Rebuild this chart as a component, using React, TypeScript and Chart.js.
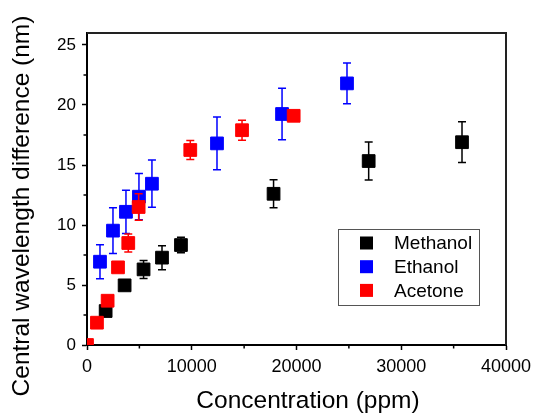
import { useEffect, useRef } from 'react';
import { Chart, registerables } from 'chart.js';

Chart.register(...registerables);

const seriesNames = ['Methanol', 'Ethanol', 'Acetone'];
const seriesColors = ['#000000', '#0000ff', '#ff0000'];

const xMethanol = [1780, 3590, 5400, 7160, 8970, 17810, 26890, 35800];
const yMethanol = [2.83, 4.97, 6.3, 7.28, 8.33, 12.6, 15.33, 16.9];
const eMethanol = [0.2, 0.3, 0.75, 1.0, 0.65, 1.17, 1.58, 1.7];

const xEthanol = [1240, 2480, 3720, 4960, 6200, 12410, 18620, 24820];
const yEthanol = [6.94, 9.53, 11.1, 12.36, 13.44, 16.8, 19.25, 21.8];
const eEthanol = [1.42, 1.9, 1.8, 1.93, 1.97, 2.2, 2.15, 1.7];

const xAcetone = [0, 950, 1970, 2960, 3940, 4930, 9860, 14800, 19730];
const yAcetone = [0, 1.86, 3.69, 6.47, 8.5, 11.5, 16.25, 17.9, 19.1];
const eAcetone = [0, 0.15, 0.15, 0.15, 0.75, 1.1, 0.8, 0.83, 0.2];

const xTickLabels = [0, 10000, 20000, 30000, 40000];
const yTickLabels = [0, 5, 10, 15, 20, 25];

const xTitle = 'Concentration (ppm)';
const yTitle = 'Central wavelength difference (nm)';

const FONT = "'Liberation Sans', Arial, sans-serif";

const toPoints = (xs: number[], ys: number[]) => xs.map((x, i) => ({ x, y: ys[i] }));

const errorBarPlugin = {
  id: 'errorBars',
  beforeDatasetDraw(chart: any, args: any) {
    const ds = chart.data.datasets[args.index];
    const errs: number[] = ds.errors || [];
    const xs = chart.scales.x;
    const ys = chart.scales.y;
    const ctx = chart.ctx;
    ctx.save();
    ctx.strokeStyle = ds.borderColor;
    ctx.lineWidth = 1.5;
    ds.data.forEach((p: any, i: number) => {
      const e = errs[i];
      if (!e) return;
      const px = xs.getPixelForValue(p.x);
      const yt = ys.getPixelForValue(p.y + e);
      const yb = ys.getPixelForValue(p.y - e);
      ctx.beginPath();
      ctx.moveTo(px, yt);
      ctx.lineTo(px, yb);
      ctx.moveTo(px - 4, yt);
      ctx.lineTo(px + 4, yt);
      ctx.moveTo(px - 4, yb);
      ctx.lineTo(px + 4, yb);
      ctx.stroke();
    });
    ctx.restore();
  },
};

const framePlugin = {
  id: 'frame',
  afterDraw(chart: any) {
    const { ctx, chartArea } = chart;
    ctx.save();
    ctx.strokeStyle = '#222222';
    ctx.lineWidth = 2;
    ctx.beginPath();
    ctx.moveTo(chartArea.left, chartArea.top);
    ctx.lineTo(chartArea.right, chartArea.top);
    ctx.lineTo(chartArea.right, chartArea.bottom);
    ctx.stroke();
    // minor ticks
    ctx.strokeStyle = '#000000';
    ctx.lineWidth = 1.5;
    const xs = chart.scales.x;
    const ys = chart.scales.y;
    ctx.beginPath();
    xs.ticks.forEach((t: any) => {
      if (xTickLabels.includes(t.value)) return;
      const px = xs.getPixelForValue(t.value);
      ctx.moveTo(px, chartArea.bottom);
      ctx.lineTo(px, chartArea.bottom + 3.5);
    });
    ys.ticks.forEach((t: any) => {
      if (yTickLabels.includes(t.value)) return;
      const py = ys.getPixelForValue(t.value);
      ctx.moveTo(chartArea.left, py);
      ctx.lineTo(chartArea.left - 3.5, py);
    });
    ctx.stroke();
    ctx.restore();
  },
};

const titlePlugin = {
  id: 'axisTitles',
  afterDraw(chart: any) {
    const { ctx, chartArea } = chart;
    ctx.save();
    ctx.fillStyle = '#000000';
    ctx.font = `24.5px ${FONT}`;
    ctx.textAlign = 'center';
    ctx.textBaseline = 'alphabetic';
    ctx.fillText(xTitle, chartArea.left + 221, chartArea.bottom + 63);
    ctx.translate(28.5, chartArea.top + 173);
    ctx.rotate(-Math.PI / 2);
    ctx.fillText(yTitle, 0, 0);
    ctx.restore();
  },
};

const legendPlugin = {
  id: 'boxLegend',
  afterDraw(chart: any) {
    const { ctx, chartArea } = chart;
    const left = chartArea.left + 251;
    const top = chartArea.top + 196;
    const w = 141;
    const h = 76;
    ctx.save();
    ctx.strokeStyle = '#555555';
    ctx.lineWidth = 1;
    ctx.strokeRect(left + 0.5, top + 0.5, w, h);
    ctx.font = `19px ${FONT}`;
    ctx.textBaseline = 'middle';
    ctx.textAlign = 'left';
    chart.data.datasets.forEach((ds: any, i: number) => {
      const cy = top + 14 + i * 23.7;
      ctx.fillStyle = ds.backgroundColor;
      ctx.fillRect(left + 22, cy - 6.5, 13, 13);
      ctx.fillStyle = '#000000';
      ctx.fillText(ds.label, left + 56, cy + 1);
    });
    ctx.restore();
  },
};

export default function App() {
  const ref = useRef<HTMLCanvasElement | null>(null);

  useEffect(() => {
    document.body.style.margin = '0';
    const canvas = ref.current;
    if (!canvas) return;
    const xsAll = [xMethanol, xEthanol, xAcetone];
    const ysAll = [yMethanol, yEthanol, yAcetone];
    const esAll = [eMethanol, eEthanol, eAcetone];
    const chart = new Chart(canvas, {
      type: 'scatter',
      data: {
        datasets: seriesNames.map((name, i) => ({
          label: name,
          data: toPoints(xsAll[i], ysAll[i]),
          errors: esAll[i],
          backgroundColor: seriesColors[i],
          borderColor: seriesColors[i],
          pointStyle: 'rect',
          pointRadius: 9,
          pointHoverRadius: 9,
          borderWidth: 1,
          order: 3 - i,
          clip: 0,
        })) as any,
      },
      options: {
        animation: false,
        responsive: false,
        events: [],
        layout: { padding: { left: 0, top: 33, right: 28, bottom: 0 } },
        plugins: {
          legend: { display: false },
          tooltip: { enabled: false },
        },
        scales: {
          x: {
            type: 'linear',
            min: 0,
            max: 40000,
            afterFit: (s: any) => {
              s.height = 69;
              s.paddingLeft = 0;
              s.paddingRight = 0;
            },
            ticks: {
              stepSize: 5000,
              includeBounds: false,
              autoSkip: false,
              maxRotation: 0,
              color: '#000000',
              padding: 6,
              font: { family: FONT, size: 18 },
              callback: (v: any) => (xTickLabels.includes(Number(v)) ? String(v) : ''),
            },
            grid: {
              drawOnChartArea: false,
              drawTicks: true,
              tickLength: 5,
              tickColor: (c: any) =>
                c.tick && xTickLabels.includes(c.tick.value) ? '#000000' : 'rgba(0,0,0,0)',
              tickWidth: 1.5,
            },
            border: { color: '#000000', width: 2 },
            title: { display: false },
          },
          y: {
            type: 'linear',
            min: 0,
            max: 26,
            afterFit: (s: any) => {
              s.width = 87;
              s.paddingTop = 0;
              s.paddingBottom = 0;
            },
            ticks: {
              stepSize: 2.5,
              includeBounds: false,
              autoSkip: false,
              color: '#000000',
              padding: 6,
              font: { family: FONT, size: 17 },
              callback: (v: any) => (yTickLabels.includes(Number(v)) ? String(v) : ''),
            },
            grid: {
              drawOnChartArea: false,
              drawTicks: true,
              tickLength: 5,
              tickColor: (c: any) =>
                c.tick && yTickLabels.includes(c.tick.value) ? '#000000' : 'rgba(0,0,0,0)',
              tickWidth: 1.5,
            },
            border: { color: '#000000', width: 2 },
            title: { display: false },
          },
        },
      },
      plugins: [errorBarPlugin, framePlugin, titlePlugin, legendPlugin],
    });
    return () => chart.destroy();
  }, []);

  return (
    <div style={{ width: 534, height: 414 }}>
      <canvas ref={ref} width={534} height={414} />
    </div>
  );
}
